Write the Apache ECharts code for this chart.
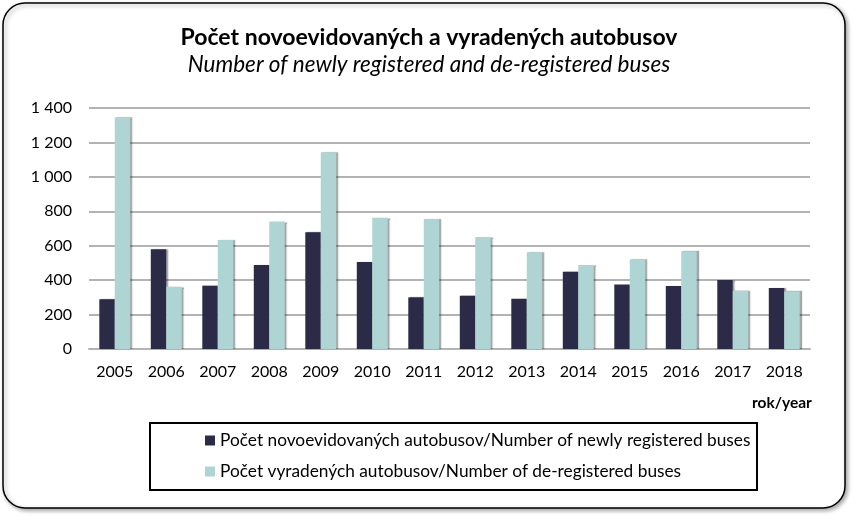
<!DOCTYPE html>
<html><head><meta charset="utf-8">
<script src="https://cdn.jsdelivr.net/npm/echarts@6/dist/echarts.min.js"></script>
<style>html,body{margin:0;padding:0;background:#fff}#c{width:858px;height:520px}</style>
</head><body><div id="c"></div>
<script>
const years = ['2005','2006','2007','2008','2009','2010','2011','2012','2013','2014','2015','2016','2017','2018'];
const newlyRegistered = [289, 579, 368, 488, 678, 505, 300, 310, 292, 449, 374, 366, 401, 354];
const deRegistered = [1346, 362, 633, 740, 1143, 763, 755, 651, 562, 488, 521, 568, 339, 335];
const seriesNames = ['Počet novoevidovaných autobusov/Number of newly registered buses','Počet vyradených autobusov/Number of de-registered buses'];
const font = 'Lato, "Open Sans", sans-serif';
const chart = echarts.init(document.getElementById('c'));
chart.setOption({
  animation: false,
  textStyle: {fontFamily: font},
  graphic: [
    {type:'rect', shape:{x:3,y:3,width:842,height:505,r:22}, style:{fill:'#fff',stroke:'#000',lineWidth:1.5, shadowBlur:4, shadowOffsetX:2, shadowOffsetY:2, shadowColor:'rgba(0,0,0,0.35)'}, z:-10},
    {type:'rect', shape:{x:150,y:423,width:607,height:67}, style:{fill:'none',stroke:'#000',lineWidth:2}, z:10},
    {type:'text', left:752, top:395, style:{text:'rok/year', font:'bold 15.5px '+font, fill:'#000'}}
  ],
  title: {
    text: 'Počet novoevidovaných a vyradených autobusov',
    subtext: 'Number of newly registered and de-registered buses',
    left: 'center', top: 21, itemGap: 4,
    textStyle: {fontSize: 23, fontWeight: 'bold', color: '#000', fontFamily: font},
    subtextStyle: {fontSize: 22.5, fontStyle: 'italic', color: '#000', fontFamily: font}
  },
  legend: {
    orient: 'vertical', left: 200, top: 427, itemGap: 14,
    itemWidth: 10, itemHeight: 10, icon: 'rect',
    textStyle: {fontSize: 17.3, color: '#000', fontFamily: font},
    data: seriesNames
  },
  grid: {left: 89, right: 48, top: 108, bottom: 171},
  xAxis: {
    type: 'category', data: years,
    axisLine: {lineStyle: {color: '#b3b3b3', width: 2}},
    axisTick: {show: false},
    axisLabel: {fontSize: 16, color: '#000', margin: 15, fontFamily: font}
  },
  yAxis: {
    type: 'value', min: 0, max: 1400, interval: 200,
    axisLine: {show: false}, axisTick: {show: false},
    splitLine: {lineStyle: {color: '#b3b3b3', width: 2}},
    axisLabel: {fontSize: 16, color: '#000', margin: 17, fontFamily: font,
      formatter: v => v >= 1000 ? String(v).replace(/(\d)(\d{3})$/, '$1 $2') : String(v)}
  },
  series: [
    {name: seriesNames[0], type: 'bar', data: newlyRegistered, barGap: '0%', barCategoryGap: '40%',
     itemStyle: {color: '#2b2b48', shadowColor: 'rgba(0,0,0,0.35)', shadowOffsetX: 2, shadowBlur: 1}},
    {name: seriesNames[1], type: 'bar', data: deRegistered,
     itemStyle: {color: '#aed5d3', shadowColor: 'rgba(0,0,0,0.35)', shadowOffsetX: 2, shadowBlur: 1}}
  ]
});
</script></body></html>
